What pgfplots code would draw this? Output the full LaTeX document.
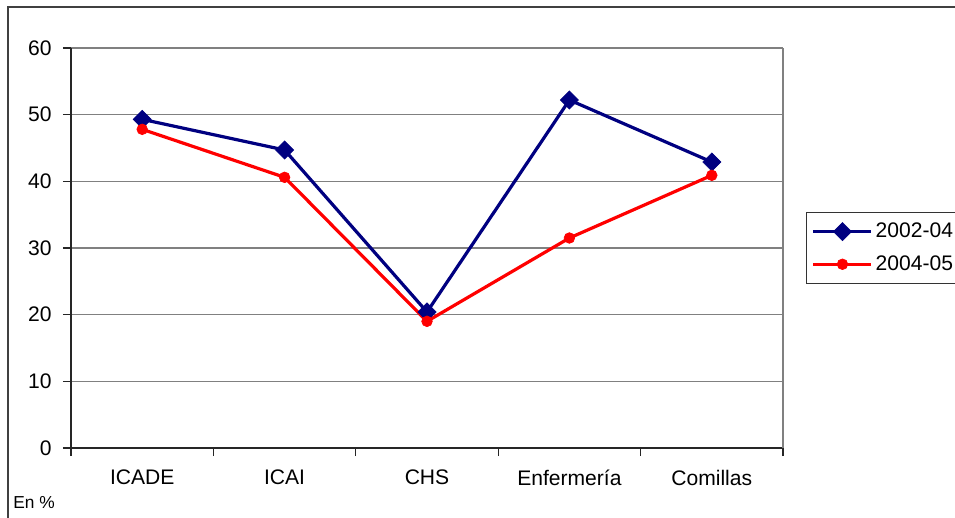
\documentclass[border=0pt]{standalone}
\usepackage{fontspec}
\setmainfont{Liberation Sans}
\usepackage{pgfplots}
\pgfplotsset{compat=1.18}
\definecolor{navyline}{RGB}{0,0,128}
\definecolor{gridgray}{RGB}{128,128,128}
\begin{document}
\begin{tikzpicture}[x=0.75pt,y=0.75pt]
\path[use as bounding box] (0,0) rectangle (955,517);
\coordinate (origin) at (71,69);
% outer chart frame (only left and top edges visible)
\draw[black!75, line width=1.4pt] (8,-20) -- (8,510) -- (990,510);
\node[anchor=west, font=\fontsize{13}{15}\selectfont, inner sep=0pt] at (13,14) {En \%};

\begin{axis}[
    at={(origin)}, anchor=south west,
    scale only axis, width=534pt, height=300pt,
    /pgf/number format/assume math mode=true,
    xmin=-0.5, xmax=4.5, ymin=0, ymax=60,
    xtick={0,...,4},
    xticklabels={ICADE,ICAI,CHS,Enfermería,Comillas},
    major x tick style={draw=none},
    minor xtick={-0.5,0.5,...,4.5},
    ytick={0,10,...,60},
    axis x line*=bottom, axis y line*=left,
    axis line style={black!85, line width=1.1pt},
    tick align=outside,
    major tick length=6pt, minor tick length=6pt,
    every tick/.style={black!85, line width=1pt},
    ymajorgrids,
    major grid style={gridgray, line width=1.1pt},
    tick label style={font=\fontsize{15.8}{18}\selectfont},
    xticklabel style={yshift=-7pt},
    yticklabel style={xshift=-5pt},
    clip=false,
    legend cell align=left,
    legend style={at={(axis description cs:1.0323,0.59)}, anchor=north west,
        draw=black!80, line width=0.8pt, font=\fontsize{15.8}{18}\selectfont,
        row sep=8pt, inner xsep=4pt, inner ysep=6pt},
    legend image code/.code={%
        \draw[mark repeat=2,mark phase=2,#1] plot coordinates {(0pt,0pt) (21.75pt,0pt) (43.5pt,0pt)};},
]
\draw[gridgray, line width=1.1pt] (rel axis cs:1,0) -- (rel axis cs:1,1);

\addplot[navyline, line width=2.4pt, mark=square*, mark size=4.8pt,
    mark options={rotate=45, solid, line width=0.5pt}] coordinates {
    (0,49.3) (1,44.7) (2,20.4) (3,52.2) (4,42.9)
};
\addlegendentry{2002-04}

\addplot[red, line width=2.4pt, mark=*, mark size=4pt,
    mark options={solid, line width=0.5pt}] coordinates {
    (0,47.8) (1,40.6) (2,19.0) (3,31.5) (4,40.9)
};
\addlegendentry{2004-05}
\end{axis}
\end{tikzpicture}
\end{document}
